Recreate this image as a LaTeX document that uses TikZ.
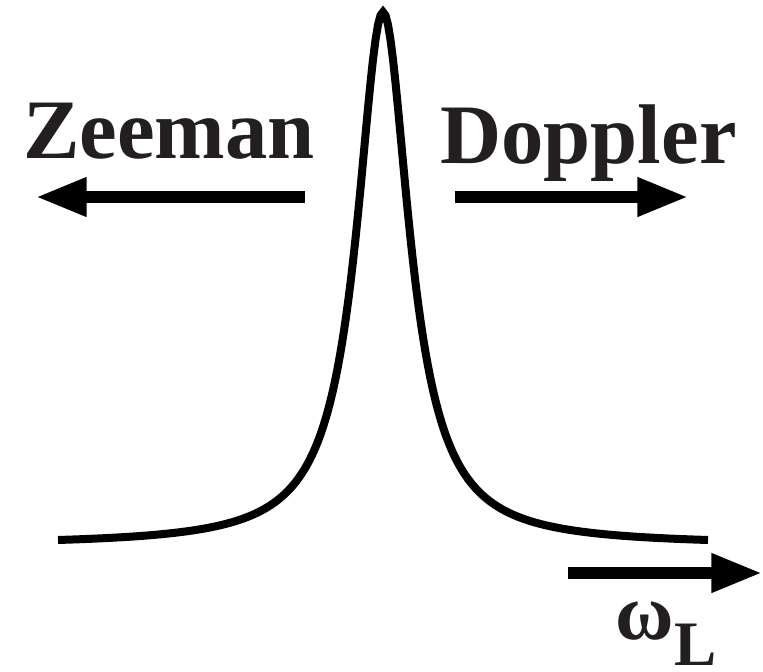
\documentclass[tikz,border=0pt]{standalone}
\usepackage{fontspec}
\setmainfont{Liberation Serif}
\usetikzlibrary{arrows.meta}
\definecolor{ink}{RGB}{35,31,32}
\tikzset{
  curve/.style={line width=6pt, black},
  bigarrow/.style={line width=8.4pt, black, -{Triangle[length=38pt,width=27.5pt]}},
  label/.style={inner sep=0pt, text=ink, font=\bfseries\fontsize{63.5pt}{70pt}\selectfont},
}
\begin{document}
\begin{tikzpicture}[x=0.75pt,y=-0.75pt]
\useasboundingbox (0,0) rectangle (763,671);
% Lorentzian line
\draw[curve] plot[domain=-325:325, samples=261, variable=\t] ({383+\t},{545.1-533/(1+(\t/32)^2)});
% labels
\node[label, anchor=base west] (zeeman) at (23,158) {Zeeman};
\node[label, anchor=base west] (doppler) at (440,163) {Doppler};
\node[inner sep=0pt, text=ink, anchor=base west, font=\bfseries\fontsize{60pt}{66pt}\selectfont] (omega) at (615,639) {ω};
\node[inner sep=0pt, text=ink, anchor=base west, font=\bfseries\fontsize{47.5pt}{54pt}\selectfont] (L) at (674,665) {L};
% arrows
\coordinate (zs) at (305,197);
\coordinate (ze) at (36,197);
\coordinate (ds) at (455,197);
\coordinate (de) at (688,197);
\coordinate (ws) at (568,573);
\coordinate (we) at (762,573);
\draw[bigarrow] (zs) -- (ze);
\draw[bigarrow] (ds) -- (de);
\draw[bigarrow] (ws) -- (we);
\end{tikzpicture}
\end{document}
